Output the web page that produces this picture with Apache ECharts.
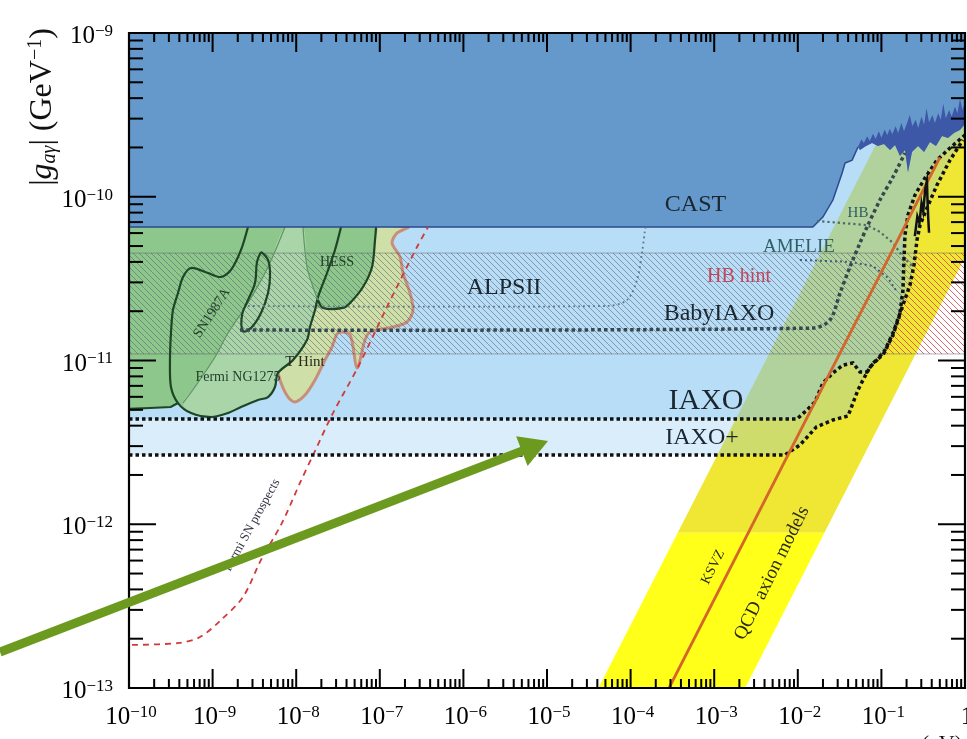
<!DOCTYPE html>
<html>
<head>
<meta charset="utf-8">
<title>Axion-photon coupling limits</title>
<script src="https://cdn.jsdelivr.net/npm/echarts@6/dist/echarts.min.js"></script>
<style>
  html, body { margin: 0; padding: 0; background: #fff; }
  #chart { width: 967px; height: 739px; }
</style>
</head>
<body>
<div id="chart"></div>
<script>
// every curve is kept as [log10(m_a / eV), log10(|g| / GeV^-1)]
var xDecades = [-10, -9, -8, -7, -6, -5, -4, -3, -2, -1, 0];
var yDecades = [-13, -12, -11, -10, -9];
var minorSteps = [2, 3, 4, 5, 6, 7, 8, 9];

var castEdge = [[-10,-10.185],[-1.82,-10.185],[-1.70,-10.124],[-1.58,-10.02],[-1.47,-9.855],[-1.435,-9.794],[-1.35,-9.776],[-1.28,-9.696]];
var haloTop = [[-1.28,-9.696],[-1.24,-9.65],[-1.21,-9.672],[-1.17,-9.63],[-1.14,-9.66],[-1.1,-9.615],[-1.07,-9.648],[-1.03,-9.6],[-1.0,-9.64],[-0.96,-9.59],[-0.93,-9.625],[-0.9,-9.585],[-0.87,-9.618],[-0.83,-9.57],[-0.8,-9.61],[-0.76,-9.55],[-0.73,-9.6],[-0.69,-9.545],[-0.66,-9.5],[-0.63,-9.57],[-0.59,-9.53],[-0.56,-9.58],[-0.52,-9.51],[-0.49,-9.56],[-0.46,-9.46],[-0.43,-9.545],[-0.39,-9.5],[-0.36,-9.55],[-0.32,-9.49],[-0.29,-9.53],[-0.26,-9.43],[-0.23,-9.52],[-0.19,-9.47],[-0.16,-9.51],[-0.12,-9.45],[-0.09,-9.49],[-0.06,-9.4],[-0.03,-9.47],[0,-9.42]];
var haloBottom = [[-1.28,-9.696],[-1.256,-9.714],[-1.184,-9.69],[-1.112,-9.672],[-1.041,-9.69],[-0.969,-9.678],[-0.897,-9.714],[-0.837,-9.684],[-0.778,-9.751],[-0.718,-9.714],[-0.682,-9.85],[-0.634,-9.727],[-0.562,-9.69],[-0.49,-9.727],[-0.419,-9.666],[-0.347,-9.69],[-0.275,-9.629],[-0.203,-9.641],[-0.132,-9.611],[-0.06,-9.592],[0,-9.556]];

var iaxo = [[-10,-11.357],[-2.01,-11.357],[-1.89,-11.302],[-1.794,-11.253],[-1.699,-11.137],[-1.579,-11.076],[-1.459,-11.028],[-1.34,-11.015],[-1.256,-11.07],[-1.172,-11.07],[-1.1,-11.015],[-0.981,-10.966],[-0.861,-10.844],[-0.781,-10.722],[-0.742,-10.569],[-0.73,-10.386],[-0.718,-10.234],[-0.682,-10.111],[-0.598,-9.989],[-0.478,-9.885],[-0.335,-9.776],[-0.179,-9.702],[0,-9.623]];
var iaxoPlus = [[-10,-11.577],[-2.153,-11.577],[-1.974,-11.516],[-1.778,-11.406],[-1.579,-11.363],[-1.4,-11.339],[-1.34,-11.26],[-1.28,-11.18],[-1.22,-11.119],[-1.136,-11.04],[-1.053,-10.997],[-0.957,-10.936],[-0.861,-10.832],[-0.742,-10.661],[-0.658,-10.539],[-0.61,-10.417],[-0.574,-10.264],[-0.538,-10.173],[-0.455,-10.069],[-0.335,-9.928],[-0.179,-9.776],[-0.024,-9.653]];
var babyIaxo = [[-8.672,-10.814],[-1.818,-10.802],[-1.615,-10.753],[-1.495,-10.588],[-1.376,-10.429],[-1.256,-10.282],[-1.172,-10.185],[-1.017,-10.02],[-0.861,-9.879],[-0.718,-9.733]];
var alpsII = [[-8.577,-10.667],[-4.282,-10.667],[-4.043,-10.631],[-3.923,-10.508],[-3.864,-10.344],[-3.828,-10.203],[-3.822,-10.185]];
var hbLimit = [[-1.77,-10.148],[-1.172,-10.173],[-1.017,-10.215],[-0.861,-10.282],[-0.742,-10.368],[-0.622,-10.429]];
var amelie = [[-1.974,-10.386],[-1.376,-10.398],[-1.1,-10.423],[-0.921,-10.496],[-0.813,-10.582]];
var fermiSN = [[-9.964,-12.737],[-9.402,-12.725],[-9.151,-12.689],[-8.9,-12.585],[-8.636,-12.444],[-8.421,-12.218],[-8.17,-11.992],[-7.955,-11.748],[-7.787,-11.565],[-7.56,-11.321],[-7.261,-11.04],[-6.914,-10.673],[-6.555,-10.307],[-6.423,-10.185]];
var ksvz = [[-3.54,-13],[-0.3,-9.76]];
var qcdLower = [[-4.385,-13],[-2.63,-13],[-1.68,-12.05],[-3.435,-12.05]];
var qcdUpper = [[-3.435,-12.05],[-1.68,-12.05],[0,-10.37],[0,-9],[-0.385,-9]];
var hbHint = [-10.96, -10.344];
var blackSpike = [[-0.6,-10.24],[-0.57,-10.12],[-0.545,-10.16],[-0.52,-10.04],[-0.5,-10.09],[-0.475,-9.95],[-0.455,-9.9],[-0.45,-10.0],[-0.44,-10.13],[-0.43,-10.22]];

var greenArea = [[-10,-10.185],[-10,-11.296],[-9.75,-11.29],[-9.5,-11.284],[-9.414,-11.26],[-9.258,-11.321],[-9.019,-11.345],[-8.816,-11.321],[-8.66,-11.284],[-8.457,-11.241],[-8.337,-11.223],[-8.254,-11.162],[-8.218,-11.076],[-8.038,-10.997],[-7.871,-10.875],[-7.835,-10.795],[-7.775,-10.692],[-7.679,-10.679],[-7.44,-10.679],[-7.356,-10.649],[-7.201,-10.551],[-7.093,-10.429],[-7.057,-10.264],[-7.045,-10.185]];
var fermiNGC = [[-8.134,-10.185],[-8.337,-10.429],[-8.577,-10.649],[-8.816,-10.832],[-8.971,-10.979],[-9.211,-11.162],[-9.354,-11.26],[-9.258,-11.321],[-9.019,-11.345],[-8.816,-11.321],[-8.66,-11.284],[-8.457,-11.241],[-8.337,-11.223],[-8.254,-11.162],[-8.218,-11.076],[-8.038,-10.997],[-7.871,-10.875],[-7.835,-10.795],[-7.775,-10.692],[-7.739,-10.612],[-7.799,-10.551],[-7.871,-10.429],[-7.919,-10.185]];
var sn1987a = [[-8.577,-10.185],[-8.66,-10.325],[-8.78,-10.447],[-8.9,-10.49],[-9.055,-10.466],[-9.258,-10.435],[-9.354,-10.49],[-9.414,-10.588],[-9.474,-10.692],[-9.498,-10.832],[-9.51,-10.997],[-9.498,-11.162],[-9.414,-11.26],[-9.258,-11.321],[-9.019,-11.345],[-8.816,-11.321],[-8.66,-11.284],[-8.457,-11.241],[-8.337,-11.223],[-8.254,-11.162],[-8.218,-11.076],[-8.038,-10.997],[-7.871,-10.875],[-7.835,-10.795],[-7.775,-10.692],[-7.739,-10.612],[-7.632,-10.466],[-7.536,-10.325],[-7.464,-10.185]];
var leftFloor = [[-10,-11.296],[-9.75,-11.29],[-9.5,-11.284],[-9.414,-11.26]];
var hessEdge = [[-7.739,-10.631],[-7.679,-10.679],[-7.44,-10.679],[-7.356,-10.649],[-7.201,-10.551],[-7.093,-10.429],[-7.057,-10.264],[-7.045,-10.185]];
var hessThin = [[-7.919,-10.185],[-7.871,-10.429],[-7.799,-10.551],[-7.739,-10.631]];
var fermiThin = [[-8.134,-10.185],[-8.337,-10.429],[-8.577,-10.649],[-8.816,-10.832],[-8.971,-10.979],[-9.211,-11.162],[-9.354,-11.26]];
var snLoop = [[-8.421,-10.337],[-8.337,-10.386],[-8.313,-10.478],[-8.337,-10.588],[-8.421,-10.71],[-8.541,-10.802],[-8.636,-10.82],[-8.648,-10.722],[-8.577,-10.631],[-8.493,-10.527],[-8.469,-10.398],[-8.421,-10.337]];
var tHint = [[-8.254,-10.185],[-8.254,-10.832],[-8.254,-10.979],[-8.194,-11.119],[-8.098,-11.223],[-8.014,-11.253],[-7.895,-11.211],[-7.775,-11.119],[-7.656,-10.997],[-7.572,-10.918],[-7.5,-10.832],[-7.356,-10.844],[-7.273,-11.046],[-7.177,-10.875],[-7.117,-10.826],[-6.842,-10.795],[-6.675,-10.765],[-6.603,-10.692],[-6.639,-10.588],[-6.722,-10.466],[-6.758,-10.368],[-6.854,-10.282],[-6.794,-10.221],[-6.663,-10.185]];

var arrowTail = [-11.543, -12.78];
var arrowTip = [-4.988, -11.492];

var labels = [
  {t: 'CAST', at: [-3.224, -10.05], size: 24},
  {t: 'ALPSII', at: [-5.514, -10.557], size: 24},
  {t: 'BabyIAXO', at: [-2.943, -10.716], size: 24},
  {t: 'HB hint', at: [-2.703, -10.49], size: 20, color: '#C2465A'},
  {t: 'AMELIE', at: [-1.986, -10.307], size: 19, color: '#2F5F63'},
  {t: 'HB', at: [-1.28, -10.099], size: 15, color: '#2F5F63'},
  {t: 'IAXO', at: [-3.098, -11.247], size: 30},
  {t: 'IAXO+', at: [-3.146, -11.473], size: 24},
  {t: 'KSVZ', at: [-3.014, -12.261], size: 14, angle: 63.5, color: '#2B2B18'},
  {t: 'QCD axion models', at: [-2.309, -12.298], size: 19, angle: 63.5, color: '#2B2B18'},
  {t: 'Fermi SN prospects', at: [-8.529, -12.005], size: 13, angle: 61, color: '#333344'},
  {t: 'SN1987A', at: [-9.007, -10.71], size: 14, angle: 57, color: '#21402A'},
  {t: 'Fermi NG1275', at: [-8.696, -11.101], size: 14, color: '#21402A'},
  {t: 'HESS', at: [-7.512, -10.398], size: 14, color: '#21402A'},
  {t: 'T Hint', at: [-7.895, -11.009], size: 15, color: '#2A2A20'}
];

var SERIF = '"Liberation Serif", "DejaVu Serif", serif';

function toData(pts) {
  return pts.map(function (p) { return [Math.pow(10, p[0]), Math.pow(10, p[1])]; });
}

// where a curve crosses a given log10(g)
function crossAt(curve, lg) {
  for (var i = 0; i < curve.length - 1; i++) {
    var a = curve[i], b = curve[i + 1];
    if (a[1] !== b[1] && (a[1] - lg) * (b[1] - lg) <= 0) {
      return [a[0] + (lg - a[1]) / (b[1] - a[1]) * (b[0] - a[0]), lg];
    }
  }
}

function hatch(color) {
  var c = document.createElement('canvas');
  c.width = 6; c.height = 6;
  var g = c.getContext('2d');
  g.strokeStyle = color; g.lineWidth = 1;
  g.beginPath();
  g.moveTo(0, 0); g.lineTo(6, 6);
  g.moveTo(-1, 5); g.lineTo(1, 7);
  g.moveTo(5, -1); g.lineTo(7, 1);
  g.stroke();
  return {image: c, repeat: 'repeat'};
}

function shape(pts, kind, style, smooth) {
  var data = toData(pts);
  return {
    type: 'custom', coordinateSystem: 'cartesian2d', clip: true, silent: true,
    data: data,
    renderItem: function (params, api) {
      if (params.dataIndex !== 0) return null;
      var points = data.map(function (d) { return api.coord(d); });
      return {type: kind, shape: {points: points, smooth: smooth || 0}, style: style};
    }
  };
}
function area(pts, fill, smooth, stroke, lw) {
  return shape(pts, 'polygon', {fill: fill, stroke: stroke || null, lineWidth: lw || 0}, smooth);
}
function curve(pts, color, lw, dash, smooth) {
  return shape(pts, 'polyline', {fill: null, stroke: color, lineWidth: lw, lineDash: dash || null}, smooth);
}

// regions built from the curves above
var castPoly = [[-10, -9]].concat(castEdge, haloBottom.slice(1), [[0, -9]]);
var haloPoly = haloTop.concat(haloBottom.slice(1).reverse());
var bluePlus = [[-10, -9], [0, -9], [0, -9.65]].concat(iaxoPlus.slice().reverse());
var blueIaxo = [[-10, -9], [0, -9]].concat(iaxo.slice().reverse());
var inner = iaxoPlus.filter(function (p) { return p[1] > hbHint[0] && p[1] < hbHint[1]; });
var cLo = crossAt(iaxoPlus, hbHint[0]), cHi = crossAt(iaxoPlus, hbHint[1]);
var grayHatch = [[-10, hbHint[1]], cHi].concat(inner.slice().reverse(), [cLo, [-10, hbHint[0]]]);
var redHatch = [cLo].concat(inner, [cHi, [0, hbHint[1]], [0, hbHint[0]]]);

var tickRich = {
  b: {fontSize: 25, fontFamily: SERIF, lineHeight: 26, verticalAlign: 'bottom'},
  s: {fontSize: 17, fontFamily: SERIF, lineHeight: 17, verticalAlign: 'top'}
};
function tickText(e) {
  return e === 0 ? '{b|1}' : '{b|10}{s|\u2212' + Math.abs(e) + '}';
}

var frameSeries = {
  type: 'custom', coordinateSystem: 'cartesian2d', clip: false, silent: true, z: 10,
  data: [[Math.pow(10, xDecades[0]), Math.pow(10, yDecades[0])]],
  renderItem: function (params, api) {
    var x0 = Math.pow(10, xDecades[0]), x1 = Math.pow(10, xDecades[xDecades.length - 1]);
    var y0 = Math.pow(10, yDecades[0]), y1 = Math.pow(10, yDecades[yDecades.length - 1]);
    var lo = api.coord([x0, y0]), hi = api.coord([x1, y1]);
    var kids = [];
    function seg(a, b, c, d) {
      kids.push({type: 'line', shape: {x1: a, y1: b, x2: c, y2: d}, style: {stroke: '#000', lineWidth: 2}});
    }
    xDecades.forEach(function (e, i) {
      var x = api.coord([Math.pow(10, e), y0])[0];
      seg(x, lo[1], x, lo[1] - 19); seg(x, hi[1], x, hi[1] + 19);
      kids.push({type: 'text', x: x + 2, y: lo[1] + 29,
        style: {text: tickText(e), rich: tickRich, fill: '#000', align: 'center', verticalAlign: 'middle'}});
      if (i < xDecades.length - 1) {
        minorSteps.forEach(function (k) {
          var xm = api.coord([k * Math.pow(10, e), y0])[0];
          seg(xm, lo[1], xm, lo[1] - 9); seg(xm, hi[1], xm, hi[1] + 9);
        });
      }
    });
    yDecades.forEach(function (e, i) {
      var y = api.coord([x0, Math.pow(10, e)])[1];
      seg(lo[0], y, lo[0] + 27, y); seg(hi[0], y, hi[0] - 27, y);
      kids.push({type: 'text', x: lo[0] - 16, y: y + 3,
        style: {text: tickText(e), rich: tickRich, fill: '#000', align: 'right', verticalAlign: 'middle'}});
      if (i < yDecades.length - 1) {
        minorSteps.forEach(function (k) {
          var ym = api.coord([x0, k * Math.pow(10, e)])[1];
          seg(lo[0], ym, lo[0] + 14, ym); seg(hi[0], ym, hi[0] - 14, ym);
        });
      }
    });
    kids.push({type: 'rect', shape: {x: lo[0], y: hi[1], width: hi[0] - lo[0], height: lo[1] - hi[1]},
      style: {fill: null, stroke: '#000', lineWidth: 2.2}});
    return {type: 'group', children: kids};
  }
};

var labelSeries = {
  type: 'custom', coordinateSystem: 'cartesian2d', clip: false, silent: true, z: 5,
  data: labels.map(function (l) { return [Math.pow(10, l.at[0]), Math.pow(10, l.at[1])]; }),
  renderItem: function (params, api) {
    var l = labels[params.dataIndex];
    var p = api.coord([api.value(0), api.value(1)]);
    return {type: 'text', x: p[0], y: p[1], rotation: (l.angle || 0) * Math.PI / 180,
      style: {text: l.t, fontSize: l.size, fontFamily: SERIF, fill: l.color || '#1B2630',
        align: 'center', verticalAlign: 'middle'}};
  }
};

var arrowSeries = {
  type: 'custom', coordinateSystem: 'cartesian2d', clip: false, silent: true, z: 12,
  data: toData([arrowTail, arrowTip]),
  renderItem: function (params, api) {
    if (params.dataIndex !== 0) return null;
    var p0 = api.coord([Math.pow(10, arrowTail[0]), Math.pow(10, arrowTail[1])]);
    var p1 = api.coord([Math.pow(10, arrowTip[0]), Math.pow(10, arrowTip[1])]);
    var dx = p1[0] - p0[0], dy = p1[1] - p0[1], len = Math.sqrt(dx * dx + dy * dy);
    var ux = dx / len, uy = dy / len, nx = -uy, ny = ux;
    var bx = p1[0] - ux * 28, by = p1[1] - uy * 28;
    return {type: 'group', children: [
      {type: 'line', shape: {x1: p0[0], y1: p0[1], x2: bx + ux * 2, y2: by + uy * 2},
        style: {stroke: '#6C9A1E', lineWidth: 9}},
      {type: 'polygon', shape: {points: [[p1[0], p1[1]], [bx + nx * 16, by + ny * 16], [bx - nx * 16, by - ny * 16]]},
        style: {fill: '#6C9A1E'}}
    ]};
  }
};

var option = {
  animation: false,
  grid: {left: 129, right: 2, top: 33, bottom: 51, containLabel: false},
  xAxis: {type: 'log', logBase: 10, min: 1e-10, max: 1,
    axisLine: {show: false}, axisTick: {show: false}, axisLabel: {show: false}, splitLine: {show: false}},
  yAxis: {type: 'log', logBase: 10, min: 1e-13, max: 1e-9,
    axisLine: {show: false}, axisTick: {show: false}, axisLabel: {show: false}, splitLine: {show: false}},
  graphic: [
    {type: 'text', x: 43, y: 107, rotation: Math.PI / 2, silent: true,
      style: {text: '|{g|g}{sub|a\u03b3}| (GeV{sup|\u22121})', fontSize: 32, fontFamily: SERIF, lineHeight: 34,
        fill: '#111', align: 'center', verticalAlign: 'middle',
        rich: {g: {fontSize: 32, fontStyle: 'italic', fontFamily: SERIF, lineHeight: 34},
          sub: {fontSize: 20, fontStyle: 'italic', fontFamily: SERIF, verticalAlign: 'bottom', lineHeight: 20},
          sup: {fontSize: 20, fontFamily: SERIF, verticalAlign: 'top', lineHeight: 20}}}},
    {type: 'text', x: 962, y: 744, silent: true,
      style: {text: '{m|m}{sub|a} (eV)', fontSize: 22, fontFamily: SERIF, fill: '#111',
        align: 'right', verticalAlign: 'middle',
        rich: {m: {fontSize: 22, fontStyle: 'italic', fontFamily: SERIF},
          sub: {fontSize: 14, fontStyle: 'italic', fontFamily: SERIF, verticalAlign: 'bottom'}}}}
  ],
  series: [
    area(qcdLower, '#FFFF1A'),
    area(qcdUpper, '#EFE734'),
    area(bluePlus, 'rgba(128,194,240,0.3)'),
    area(blueIaxo, 'rgba(128,194,240,0.36)'),
    area(tHint, 'rgba(214,224,140,0.75)', 0.3, '#C98E7A', 3),
    area(greenArea, '#8DC78B', 0.3),
    area(fermiNGC, 'rgba(232,244,232,0.32)', 0.3),
    area(grayHatch, hatch('rgba(90,92,110,0.55)')),
    area(redHatch, hatch('rgba(208,70,82,0.8)')),
    curve([[-10, hbHint[1]], [0, hbHint[1]]], 'rgba(90,90,100,0.6)', 0.8),
    curve([[-10, hbHint[0]], [0, hbHint[0]]], 'rgba(90,90,100,0.6)', 0.8),
    curve(sn1987a, '#1D4526', 2.2, null, 0.3),
    curve(leftFloor, '#1D4526', 2.2),
    curve(hessEdge, '#1D4526', 2.2, null, 0.3),
    curve(hessThin, '#5E9466', 1.2, null, 0.3),
    curve(fermiThin, '#5E9466', 1.2, null, 0.3),
    curve(snLoop, '#1D4526', 2.2, null, 0.4),
    area(castPoly, '#6598CB'),
    curve(castEdge, '#2C4A8C', 1.5),
    area(haloPoly, '#3D58A6'),
    curve(fermiSN, '#D03A3A', 1.8, [6, 5], 0.3),
    curve(alpsII, '#5F7485', 1.8, [1.8, 3.2], 0.3),
    curve(hbLimit, '#4A6A6A', 2.2, [2.2, 3]),
    curve(amelie, '#3D5A80', 2, [2, 3]),
    curve(babyIaxo, '#37474F', 3.5, [3.5, 3], 0.3),
    curve(iaxo, '#111', 3.5, [3.5, 3]),
    curve(iaxoPlus, '#111', 3.5, [3.5, 3]),
    curve(ksvz, '#D4652B', 2.8),
    curve(blackSpike, '#111', 2.5),
    labelSeries,
    frameSeries,
    arrowSeries
  ]
};

var chart = echarts.init(document.getElementById('chart'));
chart.setOption(option);
window.addEventListener('resize', function () { chart.resize(); });
</script>
</body>
</html>
